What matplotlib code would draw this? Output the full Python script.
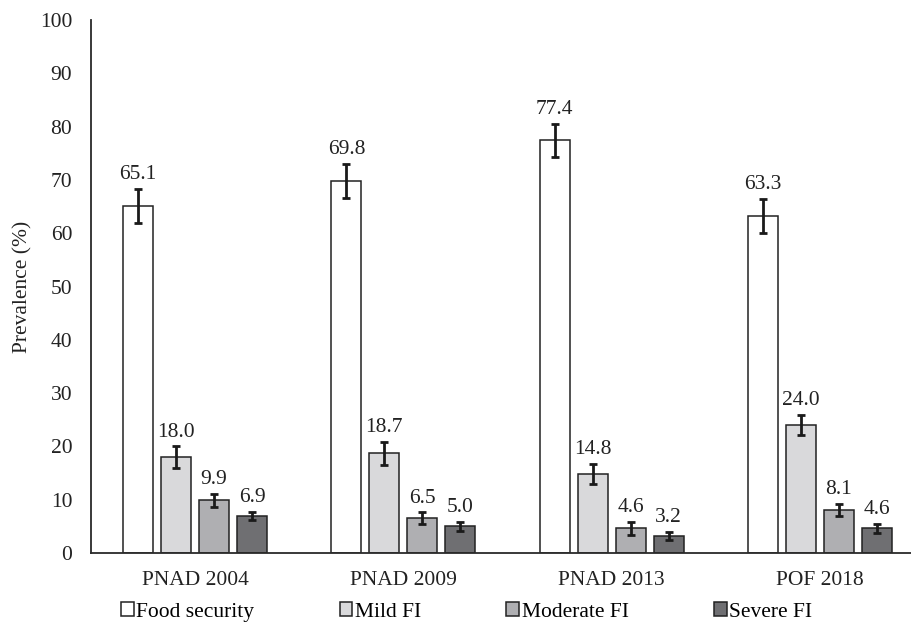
import matplotlib
matplotlib.use("Agg")
import matplotlib.pyplot as plt
import numpy as np

plt.rcParams['font.family'] = ['Liberation Serif', 'DejaVu Serif']

surveys = ["PNAD 2004", "PNAD 2009", "PNAD 2013", "POF 2018"]
series_names = ["Food security", "Mild FI", "Moderate FI", "Severe FI"]
food_security = [65.1, 69.8, 77.4, 63.3]
mild_fi = [18.0, 18.7, 14.8, 24.0]
moderate_fi = [9.9, 6.5, 4.6, 8.1]
severe_fi = [6.9, 5.0, 3.2, 4.6]
err_food_security = [3.2, 3.2, 3.1, 3.2]
err_mild_fi = [2.0, 2.1, 1.9, 1.95]
err_moderate_fi = [1.2, 1.1, 1.15, 1.1]
err_severe_fi = [0.8, 0.8, 0.8, 0.9]

values = [food_security, mild_fi, moderate_fi, severe_fi]
errors = [err_food_security, err_mild_fi, err_moderate_fi, err_severe_fi]
colors = ["#FFFFFF", "#D9D9DB", "#AFAFB2", "#6F6F72"]

W, H = 912, 623
fig = plt.figure(figsize=(W / 100, H / 100), dpi=100)
ax = fig.add_axes([91 / W, 1 - 553 / H, (924 - 91) / W, (553 - 20) / H])

x = np.arange(len(surveys))
step = 0.1824
width = 0.144
fs = 15.5
tc = "#222222"

for i, (vals, errs, col, name) in enumerate(zip(values, errors, colors, series_names)):
    pos = x + (i - 1.5) * step
    ax.bar(pos, vals, width=width, color=col, edgecolor="#222222", linewidth=1.1,
           label=name, zorder=2)
    ax.errorbar(pos, vals, yerr=errs, fmt='none', ecolor="#1a1a1a", elinewidth=2.0,
                capsize=3.0, capthick=2.0, zorder=3)
    for p, v, e in zip(pos, vals, errs):
        ax.annotate(f"{v:.1f}", (p, v + e), xytext=(0, 3.5), textcoords="offset points",
                    ha="center", va="bottom", fontsize=fs, color=tc)

ax.set_xlim(-0.5, 3.5)
ax.set_ylim(0, 100)
ax.set_yticks(np.arange(0, 101, 10))
ax.set_xticks(x)
ax.set_xticklabels(surveys)
ax.tick_params(axis='both', length=0, labelsize=fs, colors=tc)
ax.tick_params(axis='x', pad=13)
ax.tick_params(axis='y', pad=13.5)
for s in ["top", "right"]:
    ax.spines[s].set_visible(False)
for s in ["left", "bottom"]:
    ax.spines[s].set_color("#2a2a2a")
    ax.spines[s].set_linewidth(1.3)
ax.set_ylabel("Prevalence (%)", fontsize=fs, color=tc, labelpad=5)

fig.legend(loc="center left", bbox_to_anchor=(121 / W, 1 - 612 / H), ncol=4,
           frameon=False, fontsize=fs, borderpad=0, borderaxespad=0,
           handlelength=0.6, handleheight=0.6, handletextpad=0.12,
           columnspacing=3.95)

fig.savefig("out.png", dpi=100)
